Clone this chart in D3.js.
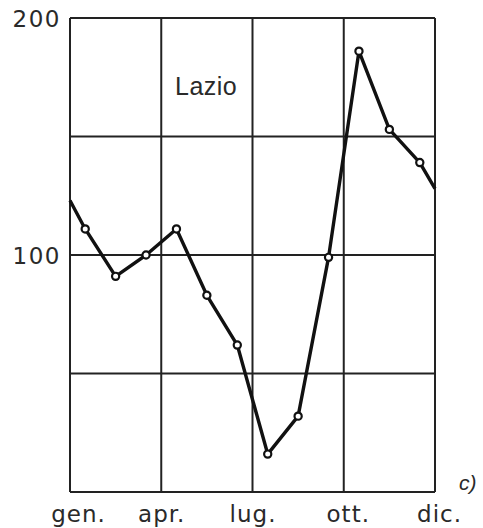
<!DOCTYPE html>
<html>
<head>
<meta charset="utf-8">
<script src="https://cdn.jsdelivr.net/npm/d3@7"></script>
<style>
  html, body { margin: 0; padding: 0; background: #fff; }
  svg { display: block; }
  text { font-family: "Liberation Sans", Arial, sans-serif; fill: #2a2a2a; }
</style>
</head>
<body>
<svg id="chart" width="483" height="528"></svg>
<script>
// ---- data ----
const months = ["gen.","feb.","mar.","apr.","mag.","giu.","lug.","ago.","set.","ott.","nov.","dic."];
const values = [111, 91, 100, 111, 83, 62, 16, 32, 99, 186, 153, 139];
const edgeValues = [123, 128];           // line value at the left (start gen.) and right (end dic.) edges
const xTickPositions = [0, 3, 6, 9, 12];
const xTickLabels = ["gen.", "apr.", "lug.", "ott.", "dic."];
const yGridValues = [0, 50, 100, 150, 200];
const yTickValues = [100, 200];
const title = "Lazio";
const panelLabel = "c)";

(function () {
// ---- layout ----
const svg = d3.select("#chart");
const pLeft = 70, pRight = 435, pTop = 18, pBottom = 492;
const x = d3.scaleLinear().domain([0, 12]).range([pLeft, pRight]);
const y = d3.scaleLinear().domain([0, 200]).range([pBottom, pTop]);
const ink = "#222";

// grid (horizontal)
svg.append("g").selectAll("line").data(yGridValues).join("line")
  .attr("x1", x(0)).attr("x2", x(12))
  .attr("y1", d => y(d)).attr("y2", d => y(d))
  .attr("stroke", ink).attr("stroke-width", 2);

// grid (vertical)
svg.append("g").selectAll("line").data(xTickPositions).join("line")
  .attr("x1", d => x(d)).attr("x2", d => x(d))
  .attr("y1", y(0)).attr("y2", y(200))
  .attr("stroke", ink).attr("stroke-width", 2);

// y axis labels
const yAxis = svg.append("g")
  .attr("transform", `translate(${pLeft - 9},0)`)
  .call(d3.axisLeft(y).tickValues(yTickValues).tickSize(0).tickPadding(0).tickFormat(d3.format("d")));
yAxis.select(".domain").remove();
yAxis.selectAll("text")
  .style("font-family", "'DejaVu Sans', sans-serif")
  .style("font-size", "23px")
  .style("letter-spacing", "1.5px")
  .attr("fill", "#333")
  .attr("dy", "0.36em");

// x axis labels
const xAxis = svg.append("g")
  .attr("transform", `translate(0,${pBottom})`)
  .call(d3.axisBottom(x).tickValues(xTickPositions).tickSize(0).tickPadding(14)
    .tickFormat((d, i) => xTickLabels[i]));
xAxis.select(".domain").remove();
xAxis.selectAll("text")
  .style("font-family", "'DejaVu Sans', sans-serif")
  .style("font-size", "23px")
  .style("letter-spacing", "1px")
  .attr("fill", "#333")
  .attr("dx", (d, i) => i === 0 ? 8 : (i === 4 ? 4 : (i === 3 ? 4 : 0)));

// data line
const pts = [[0, edgeValues[0]]]
  .concat(values.map((v, i) => [i + 0.5, v]))
  .concat([[12, edgeValues[1]]]);
svg.append("path")
  .datum(pts)
  .attr("fill", "none")
  .attr("stroke", "#111")
  .attr("stroke-width", 3.4)
  .attr("stroke-linejoin", "round")
  .attr("d", d3.line().x(d => x(d[0])).y(d => y(d[1])));

// markers
svg.append("g").selectAll("circle").data(values).join("circle")
  .attr("cx", (d, i) => x(i + 0.5))
  .attr("cy", d => y(d))
  .attr("r", 3.6)
  .attr("fill", "#fff")
  .attr("stroke", "#111")
  .attr("stroke-width", 2.2);

// title
svg.append("text")
  .attr("x", 175).attr("y", 95)
  .style("font-size", "25px")
  .style("letter-spacing", "0.5px")
  .text(title);

// panel label
svg.append("text")
  .attr("x", 459).attr("y", 490)
  .style("font-size", "21px")
  .style("font-style", "italic")
  .text(panelLabel);
})();
</script>
</body>
</html>
